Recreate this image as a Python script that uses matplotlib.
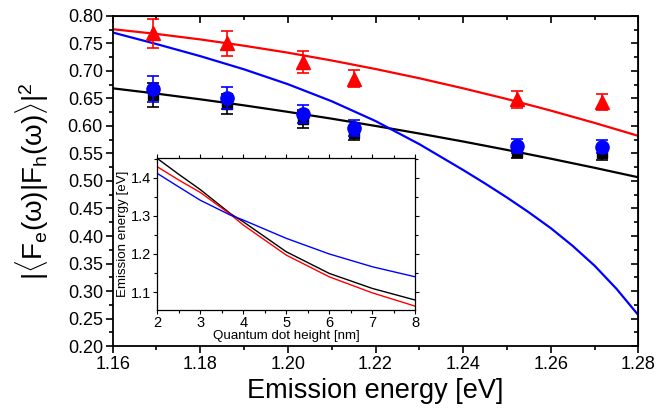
import matplotlib
matplotlib.use("Agg")
import matplotlib.pyplot as plt
from matplotlib.ticker import MultipleLocator

plt.rcParams['font.family'] = ['Liberation Sans', 'DejaVu Sans']
plt.rcParams['mathtext.fontset'] = 'custom'
plt.rcParams['mathtext.rm'] = 'Liberation Sans'
plt.rcParams['mathtext.it'] = 'Liberation Sans'
plt.rcParams['mathtext.bf'] = 'Liberation Sans:bold'

# Measured data points
x_pts = [1.1693, 1.1860, 1.2034, 1.2151, 1.2523, 1.2716]
red_y = [0.7685, 0.750, 0.716, 0.686, 0.6485, 0.644]
red_err = [0.026, 0.022, 0.020, 0.015, 0.016, 0.015]
blue_y = [0.667, 0.6515, 0.622, 0.596, 0.564, 0.562]
blue_err = [0.023, 0.020, 0.017, 0.015, 0.013, 0.012]
black_y = [0.657, 0.640, 0.6127, 0.5867, 0.5533, 0.550]
black_err = [0.022, 0.018, 0.017, 0.013, 0.011, 0.011]

# Model curves
x_line = [1.16, 1.17, 1.18, 1.19, 1.20, 1.21, 1.22, 1.23, 1.24, 1.25, 1.26, 1.27, 1.28]
red_line = [0.776, 0.7674, 0.7574, 0.7459, 0.7333, 0.7191, 0.7036, 0.6868, 0.6685, 0.6490, 0.6280, 0.6056, 0.582]
black_line = [0.6685, 0.6589, 0.6485, 0.6375, 0.6257, 0.6133, 0.6001, 0.5863, 0.5718, 0.5565, 0.5406, 0.5240, 0.5067]
x_blue = [1.16, 1.17, 1.18, 1.19, 1.20, 1.21, 1.22, 1.23, 1.24, 1.245, 1.25,
          1.255, 1.26, 1.265, 1.27, 1.275, 1.28]
blue_line = [0.770, 0.749, 0.727, 0.703, 0.676, 0.645, 0.609, 0.567, 0.520, 0.4955, 0.470,
             0.443, 0.4143, 0.382, 0.346, 0.304, 0.256]

# Inset curves
h_nm = [2.0, 2.5, 3.0, 3.7, 4.0, 5.0, 6.0, 7.0, 8.0]
inset_black = [1.4507, 1.409, 1.369, 1.306, 1.2845, 1.2058, 1.149, 1.1096, 1.079]
inset_red = [1.4289, 1.394, 1.3615, 1.304, 1.276, 1.197, 1.140, 1.098, 1.063]
inset_blue = [1.4114, 1.376, 1.341, 1.302, 1.289, 1.241, 1.200, 1.1665, 1.140]

fig = plt.figure(figsize=(6.72, 4.13), dpi=100)
ax = fig.add_axes([0.1676, 0.1622, 0.7824, 0.7991])

ax.plot(x_line, red_line, color='#ff0000', lw=1.6, zorder=2)
ax.plot(x_line, black_line, color='black', lw=1.6, zorder=2)
ax.plot(x_blue, blue_line, color='#0000ff', lw=1.6, zorder=2)

ax.errorbar(x_pts, black_y, yerr=black_err, fmt='s', color='black', ms=7,
            capsize=4, elinewidth=1.2, capthick=1.2, zorder=3)
ax.errorbar(x_pts, blue_y, yerr=blue_err, fmt='o', color='#0000ff', ms=9.5,
            capsize=4, elinewidth=1.2, capthick=1.2, zorder=4)
ax.errorbar(x_pts, red_y, yerr=red_err, fmt='^', color='#ff0000', ms=10,
            capsize=4, elinewidth=1.2, capthick=1.2, zorder=4)

ax.set_xlim(1.16, 1.28)
ax.set_ylim(0.20, 0.80)
ax.xaxis.set_major_locator(MultipleLocator(0.02))
ax.xaxis.set_minor_locator(MultipleLocator(0.01))
ax.yaxis.set_major_locator(MultipleLocator(0.05))
ax.yaxis.set_minor_locator(MultipleLocator(0.025))
ax.xaxis.set_major_formatter(plt.FuncFormatter(lambda v, p: f"{v:.2f}"))
ax.yaxis.set_major_formatter(plt.FuncFormatter(lambda v, p: f"{v:.2f}"))
ax.tick_params(which='both', direction='out', labelsize=13, width=1.2, pad=2)
ax.tick_params(which='major', length=5)
ax.tick_params(which='minor', length=3)
for s in ax.spines.values():
    s.set_linewidth(1.3)

ax2t = ax.secondary_xaxis('top')
ax2t.xaxis.set_major_locator(MultipleLocator(0.02))
ax2t.xaxis.set_minor_locator(MultipleLocator(0.01))
ax2t.tick_params(which='both', direction='in', labeltop=False, width=1.2)
ax2t.tick_params(which='major', length=5)
ax2t.tick_params(which='minor', length=3)
ax2r = ax.secondary_yaxis('right')
ax2r.yaxis.set_major_locator(MultipleLocator(0.05))
ax2r.yaxis.set_minor_locator(MultipleLocator(0.025))
ax2r.tick_params(which='both', direction='in', labelright=False, width=1.2)
ax2r.tick_params(which='major', length=5)
ax2r.tick_params(which='minor', length=3)

ax.set_xlabel('Emission energy [eV]', fontsize=19.5, labelpad=4)
ax.set_ylabel(r'$|\langle \mathrm{F}_\mathrm{e}(\omega)|\mathrm{F}_\mathrm{h}(\omega)\rangle|^2$',
              fontsize=20, labelpad=12)

# Inset
ins = fig.add_axes([0.234, 0.2494, 0.384, 0.3673])
ins.plot(h_nm, inset_black, color='black', lw=1.0)
ins.plot(h_nm, inset_red, color='#ff0000', lw=1.0)
ins.plot(h_nm, inset_blue, color='#0000ff', lw=1.0)
ins.set_xlim(2, 8)
ins.set_ylim(1.053, 1.451)
ins.xaxis.set_major_locator(MultipleLocator(1))
ins.xaxis.set_minor_locator(MultipleLocator(0.5))
ins.yaxis.set_major_locator(MultipleLocator(0.1))
ins.yaxis.set_minor_locator(MultipleLocator(0.05))
ins.yaxis.set_major_formatter(plt.FuncFormatter(lambda v, p: f"{v:.1f}"))
ins.tick_params(which='both', direction='out', labelsize=10.5, width=0.8,
                top=True, right=True, pad=1.5)
ins.tick_params(which='major', length=3)
ins.tick_params(which='minor', length=2)
ins.set_xlabel('Quantum dot height [nm]', fontsize=9.6, labelpad=0)
ins.set_ylabel('Emission energy [eV]', fontsize=9.6, labelpad=1)
for s in ins.spines.values():
    s.set_linewidth(0.9)

fig.savefig('out.png', dpi=100)
